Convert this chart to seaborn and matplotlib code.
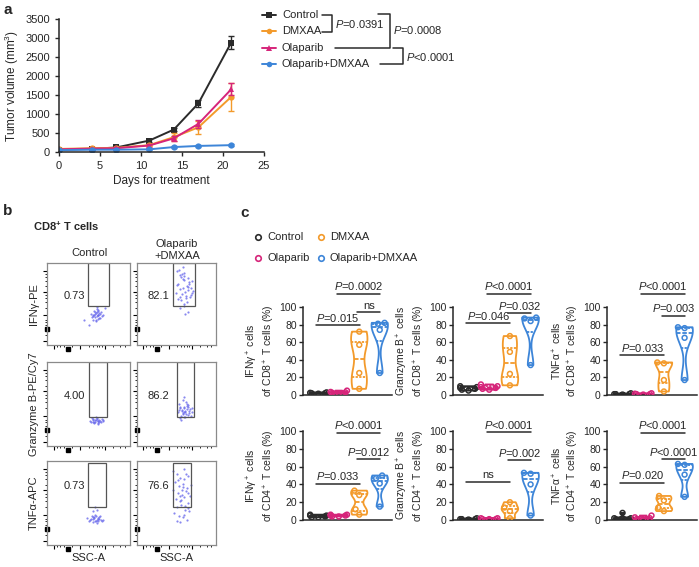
import numpy as np
import pandas as pd
import matplotlib
matplotlib.use('Agg')
import matplotlib.pyplot as plt
from matplotlib.lines import Line2D
from matplotlib.patches import Rectangle
from matplotlib.collections import PathCollection
import seaborn as sns

W, H = 699, 567

# ── Panel a: tumour growth (mean ± SEM) ──────────────────────
days = [0, 4, 7, 11, 14, 17, 21]
vol_control = [60, 80, 120, 300, 590, 1280, 2880]
sem_control = [20, 20, 30, 40, 50, 100, 180]
vol_dmxaa = [80, 100, 110, 180, 390, 650, 1450]
sem_dmxaa = [20, 20, 20, 30, 100, 170, 370]
vol_olaparib = [70, 90, 100, 170, 360, 740, 1650]
sem_olaparib = [20, 20, 20, 30, 60, 100, 160]
vol_combo = [50, 60, 60, 70, 130, 160, 180]
sem_combo = [10, 10, 10, 10, 20, 20, 20]
a_groups = ['Control', 'DMXAA', 'Olaparib', 'Olaparib+DMXAA']

# ── Panel b: flow cytometry events (relative units 0-100) ────
flow_markers = ['IFNγ-PE', 'Granzyme B-PE/Cy7', 'TNFα-APC']
pct_control = ['0.73', '4.00', '0.73']
pct_combo = ['82.1', '86.2', '76.6']

ifng_ctrl_x = [55, 58, 60, 62, 64, 57, 59, 61, 63, 66, 53, 56, 60, 65, 58, 61, 62, 59, 57, 63,
               60, 54, 67, 61, 58, 64, 56, 62, 60, 59, 45, 70, 50]
ifng_ctrl_y = [35, 38, 40, 36, 33, 42, 31, 37, 39, 35, 38, 30, 44, 40, 34, 36, 41, 29, 37, 33,
               46, 34, 37, 32, 40, 38, 36, 43, 35, 39, 30, 45, 25]
ifng_combo_x = [50, 55, 60, 65, 70, 52, 58, 63, 68, 54, 61, 66, 57, 62, 67, 51, 56, 64, 59, 53,
                69, 60, 55, 65, 58, 62, 57, 63, 49, 71, 60, 54, 66, 59, 61, 56, 64, 52, 68, 58]
ifng_combo_y = [90, 85, 88, 82, 78, 75, 80, 72, 70, 68, 65, 77, 62, 60, 58, 73, 55, 67, 84, 92,
                64, 50, 45, 40, 70, 57, 87, 52, 63, 66, 79, 59, 74, 48, 38, 83, 71, 56, 61, 95]
gzmb_ctrl_x = [52, 55, 58, 60, 62, 65, 67, 54, 57, 61, 63, 66, 59, 56, 64, 53, 60, 62, 58, 68,
               55, 61, 63, 57, 59]
gzmb_ctrl_y = [30, 31, 29, 32, 30, 28, 31, 33, 27, 30, 29, 32, 31, 28, 30, 29, 33, 27, 31, 30,
               32, 26, 31, 29, 34]
gzmb_combo_x = [52, 55, 58, 61, 64, 67, 70, 53, 56, 60, 63, 66, 69, 54, 57, 62, 65, 59, 61, 58,
                56, 63, 60, 64, 57, 55, 62, 66, 59, 61, 53, 68, 60, 58, 63]
gzmb_combo_y = [40, 45, 38, 42, 47, 44, 40, 50, 36, 41, 48, 39, 45, 33, 43, 52, 37, 46, 40, 55,
                31, 44, 35, 49, 42, 47, 38, 42, 58, 34, 43, 36, 45, 39, 50]
tnfa_ctrl_x = [48, 52, 55, 58, 61, 64, 67, 50, 54, 57, 60, 63, 66, 53, 56, 59, 62, 65, 58, 60,
               55, 61, 57, 63, 59, 55, 60, 58]
tnfa_ctrl_y = [32, 30, 33, 29, 31, 34, 30, 28, 35, 32, 30, 33, 29, 31, 27, 34, 32, 30, 36, 26,
               31, 29, 33, 31, 28, 40, 42, 45]
tnfa_combo_x = [45, 50, 55, 60, 65, 48, 53, 58, 63, 68, 46, 52, 57, 62, 67, 49, 54, 59, 64, 51,
                56, 61, 66, 47, 53, 58, 63, 50, 55, 60, 65, 57, 52, 62, 59, 54, 61, 56, 64, 58]
tnfa_combo_y = [88, 85, 80, 78, 82, 75, 70, 73, 68, 72, 65, 62, 60, 64, 58, 55, 52, 57, 50, 45,
                48, 42, 40, 38, 35, 33, 30, 28, 27, 36, 44, 66, 77, 85, 90, 58, 47, 53, 62, 69]

# ── Panel c: % positive cells per mouse ─────────────────────
c_groups = ['Control', 'Olaparib', 'DMXAA', 'Olaparib+DMXAA']
ifng_cd8 = [[1.5, 2, 2.5, 3, 2], [2, 3, 5, 3.5, 2.5], [72, 57, 25, 7], [82, 81, 74, 25]]
gzmb_cd8 = [[5, 8, 10, 9, 7, 6], [7, 9, 12, 8, 10, 6], [67, 49, 24, 11], [88, 87, 84, 34]]
tnfa_cd8 = [[1, 1, 2, 1, 0.5], [1, 1.5, 2, 1, 0.5], [37, 36, 17, 4], [77, 76, 65, 17]]
ifng_cd4 = [[3, 5, 6, 4, 5, 3], [4, 6, 5, 5, 4, 6], [33, 28, 12, 6], [50, 47, 41, 15]]
gzmb_cd4 = [[1, 1, 2, 1, 0.5], [1, 2, 2, 1, 1], [20, 14, 10, 2], [53, 52, 40, 5]]
tnfa_cd4 = [[2, 8, 1, 1, 0.5, 2], [1, 3, 5, 2, 1], [27, 22, 14, 10], [63, 62, 51, 26]]

ifng_cd8_stats = [(0, 2, 79, '$P$=0.015'), (2, 3, 94, 'ns'), (1, 3, 115, '$P$=0.0002')]
gzmb_cd8_stats = [(0, 2, 82, '$P$=0.046'), (2, 3, 93, '$P$=0.032'), (1, 3, 115, '$P$<0.0001')]
tnfa_cd8_stats = [(0, 2, 45, '$P$=0.033'), (2, 3, 90, '$P$=0.003'), (1, 3, 115, '$P$<0.0001')]
ifng_cd4_stats = [(0, 2, 41, '$P$=0.033'), (2, 3, 68, '$P$=0.012'), (1, 3, 98, '$P$<0.0001')]
gzmb_cd4_stats = [(0, 2, 43, 'ns'), (2, 3, 67, '$P$=0.002'), (1, 3, 99, '$P$<0.0001')]
tnfa_cd4_stats = [(0, 2, 42, '$P$=0.020'), (2, 3, 68, '$P$<0.0001'), (1, 3, 98, '$P$<0.0001')]

# ── style ─────────────────────────────────────────────────────
BLACK, ORANGE, MAGENTA, BLUE = '#2b2b2b', '#f39a2b', '#d6257a', '#3d85d8'
DOT = '#6b6bec'

sns.set_style('ticks')
plt.rcParams['font.family'] = ['Liberation Sans', 'DejaVu Sans']
plt.rcParams['mathtext.fontset'] = 'custom'
plt.rcParams['mathtext.rm'] = 'Liberation Sans'
plt.rcParams['mathtext.it'] = 'Liberation Sans:italic'
plt.rcParams['mathtext.bf'] = 'Liberation Sans:bold'
plt.rcParams['axes.linewidth'] = 1.1


def rect(x0, y0, x1, y1):
    return [x0 / W, 1 - y1 / H, (x1 - x0) / W, (y1 - y0) / H]


def fx(px):
    return px / W


def fy(py):
    return 1 - py / H


fig = plt.figure(figsize=(W / 100, H / 100), dpi=100)

# ── PANEL a ───────────────────────────────────────────────────
ax = fig.add_axes(rect(59, 19, 264, 152))
a_series = [(vol_control, sem_control, BLACK, 's'),
            (vol_dmxaa, sem_dmxaa, ORANGE, 'o'),
            (vol_olaparib, sem_olaparib, MAGENTA, '^'),
            (vol_combo, sem_combo, BLUE, 'o')]
for vals, sem, color, mk in a_series:
    sns.lineplot(x=days, y=vals, color=color, marker=mk, markersize=4.5,
                 markeredgewidth=0, linewidth=1.4, ax=ax)
    ax.errorbar(days, vals, yerr=sem, fmt='none', ecolor=color,
                elinewidth=1, capsize=2.5, capthick=1)
ax.set_xlim(0, 25); ax.set_ylim(0, 3500)
ax.set_xticks(range(0, 26, 5)); ax.set_yticks(range(0, 3501, 500))
ax.tick_params(labelsize=8, length=3, width=1)
ax.set_xlabel('Days for treatment', fontsize=8.5, labelpad=3)
ax.set_ylabel('Tumor volume (mm$^3$)', fontsize=8.5, labelpad=3)
sns.despine(ax=ax)

# legend + brackets
for i, (name, (vals, sem, color, mk)) in enumerate(zip(a_groups, a_series)):
    y = 15 + i * 16.3
    fig.add_artist(Line2D([fx(262), fx(276)], [fy(y), fy(y)], color=color, lw=1.4))
    fig.add_artist(Line2D([fx(269)], [fy(y)], color=color, marker=mk, ms=4, mew=0))
    fig.text(fx(282), fy(y), name, fontsize=8, va='center', ha='left')

brackets_a = [([322, 332, 332, 322], [15, 15, 32, 32], 335, 24, '$P$=0.0391'),
              ([378, 390, 390, 335], [14, 14, 48, 48], 393, 30, '$P$=0.0008'),
              ([393, 403, 403, 380], [48, 48, 64, 64], 406, 57, '$P$<0.0001')]
for xs, ys, tx, ty, lab in brackets_a:
    fig.add_artist(Line2D([fx(v) for v in xs], [fy(v) for v in ys], color=BLACK, lw=1.1))
    fig.text(fx(tx), fy(ty), lab, fontsize=8, va='center', ha='left')

# ── PANEL b ───────────────────────────────────────────────────
fig.text(fx(33), fy(226), r'CD8$^\mathbf{+}$ T cells', fontsize=8, fontweight='bold',
         va='center', ha='left')
fig.text(fx(89), fy(253), 'Control', fontsize=8, ha='center', va='center')
fig.text(fx(177), fy(250), 'Olaparib\n+DMXAA', fontsize=8, ha='center', va='center',
         linespacing=1.3)

flow_points = [[(ifng_ctrl_x, ifng_ctrl_y), (ifng_combo_x, ifng_combo_y)],
               [(gzmb_ctrl_x, gzmb_ctrl_y), (gzmb_combo_x, gzmb_combo_y)],
               [(tnfa_ctrl_x, tnfa_ctrl_y), (tnfa_combo_x, tnfa_combo_y)]]
row_px = [(263, 345), (362, 446), (461, 545)]
col_px = [(47, 130), (137, 216)]
gates = [[(49, 75, 47), (46, 73, 47)],
         [(51, 72, 34), (51, 72, 34)],
         [(49, 71, 45), (46, 68, 45)]]
pct_y = [60, 59, 70]
pct_x = [33, 27]

for r in range(3):
    for c in range(2):
        bx = fig.add_axes(rect(col_px[c][0], row_px[r][0], col_px[c][1], row_px[r][1]))
        px, py = flow_points[r][c]
        sns.scatterplot(x=px, y=py, s=2.5, color=DOT, linewidth=0, alpha=0.8, ax=bx)
        bx.set_xlim(0, 100); bx.set_ylim(0, 100)
        g0, g1, gy = gates[r][c]
        gtop = 100 if r < 2 else 98
        bx.add_patch(Rectangle((g0, gy), g1 - g0, gtop - gy, fill=False,
                               edgecolor='#555555', lw=0.9))
        bx.text(pct_x[c], pct_y[r], (pct_control if c == 0 else pct_combo)[r],
                fontsize=8, ha='center', va='center')
        for sp in bx.spines.values():
            sp.set_color('#8a8a8a'); sp.set_linewidth(0.9)
        bx.set_yticks([5, 36, 65, 90])
        bx.set_yticks([12, 18, 24, 28, 31, 45, 52, 57, 61, 72, 78, 83, 87], minor=True)
        bx.set_xticks([8, 40, 70])
        bx.set_xticks([12, 16, 20, 30, 50, 56, 60, 63, 66, 80, 88, 94], minor=True)
        bx.tick_params(which='major', length=3, width=0.8, color='black',
                       labelleft=False, labelbottom=False)
        bx.tick_params(which='minor', length=1.5, width=0.6, color='black')
        bx.plot([0], [19], 's', color='black', ms=2.5, clip_on=False)
        bx.plot([25], [-5], 's', color='black', ms=2.5, clip_on=False)
        bx.set_xlabel('SSC-A' if r == 2 else '', fontsize=8, labelpad=1)
        bx.set_ylabel(flow_markers[r] if c == 0 else '', fontsize=8, labelpad=1)

# ── PANEL c ───────────────────────────────────────────────────
c_palette = dict(zip(c_groups, [BLACK, MAGENTA, ORANGE, BLUE]))
c_legend = [('Control', BLACK, 258, 237), ('DMXAA', ORANGE, 321, 237),
            ('Olaparib', MAGENTA, 258, 258), ('Olaparib+DMXAA', BLUE, 321, 258)]
for name, color, lx, ly in c_legend:
    fig.add_artist(Line2D([fx(lx)], [fy(ly)], marker='o', ms=4, mfc='none',
                          mec=color, mew=1.2, lw=0))
    fig.text(fx(lx + 9), fy(ly), name, fontsize=8, va='center', ha='left')

c_panels = [
    (ifng_cd8, 'IFNγ$^+$ cells\nof CD8$^+$ T cells (%)', ifng_cd8_stats),
    (gzmb_cd8, 'Granzyme B$^+$ cells\nof CD8$^+$ T cells (%)', gzmb_cd8_stats),
    (tnfa_cd8, 'TNFα$^+$ cells\nof CD8$^+$ T cells (%)', tnfa_cd8_stats),
    (ifng_cd4, 'IFNγ$^+$ cells\nof CD4$^+$ T cells (%)', ifng_cd4_stats),
    (gzmb_cd4, 'Granzyme B$^+$ cells\nof CD4$^+$ T cells (%)', gzmb_cd4_stats),
    (tnfa_cd4, 'TNFα$^+$ cells\nof CD4$^+$ T cells (%)', tnfa_cd4_stats),
]
cx = [(303, 392), (453, 543), (607, 697)]
cy = [(307, 395), (431, 520)]

for k, (vals, ylab, stats) in enumerate(c_panels):
    r, c = divmod(k, 3)
    cax = fig.add_axes(rect(cx[c][0], cy[r][0], cx[c][1], cy[r][1]))
    df = pd.DataFrame({'grp': [g for g, v in zip(c_groups, vals) for _ in v],
                       'val': [x for v in vals for x in v]})
    sns.violinplot(data=df, x='grp', y='val', hue='grp', order=c_groups,
                   hue_order=c_groups, palette=c_palette, fill=False, cut=0,
                   inner='quart', density_norm='width', width=0.8, bw_adjust=0.6,
                   linewidth=1.3, legend=False, ax=cax)
    sns.swarmplot(data=df, x='grp', y='val', hue='grp', order=c_groups,
                  hue_order=c_groups, palette=c_palette, size=3.5, legend=False,
                  warn_thresh=1, ax=cax)
    for coll in cax.collections:
        if isinstance(coll, PathCollection):
            fc = coll.get_facecolors()
            coll.set_edgecolors(fc)
            coll.set_facecolors('none')
            coll.set_linewidths(1.1)
    cax.set_xlim(-0.75, 3.6); cax.set_ylim(0, 100)
    cax.set_yticks(range(0, 101, 20))
    cax.set_xticks([])
    cax.set_xlabel('')
    cax.tick_params(axis='y', labelsize=7.5, length=3, width=1, pad=1.5)
    cax.set_ylabel(ylab, fontsize=7.5, labelpad=2, linespacing=1.15)
    sns.despine(ax=cax)
    for i, j, yv, lab in stats:
        x1, x2 = i - 0.1, j + 0.02
        cax.plot([x1, x2], [yv, yv], color=BLACK, lw=1.1, clip_on=False)
        cax.text((x1 + x2) / 2, yv + 1.5, lab, fontsize=8, ha='center', va='bottom')

# panel letters
fig.text(fx(3), fy(10), 'a', fontsize=11, fontweight='bold', va='center')
fig.text(fx(3), fy(211), 'b', fontsize=11, fontweight='bold', va='center')
fig.text(fx(240), fy(213), 'c', fontsize=11, fontweight='bold', va='center')

plt.savefig('out.png', dpi=100)
plt.close()
